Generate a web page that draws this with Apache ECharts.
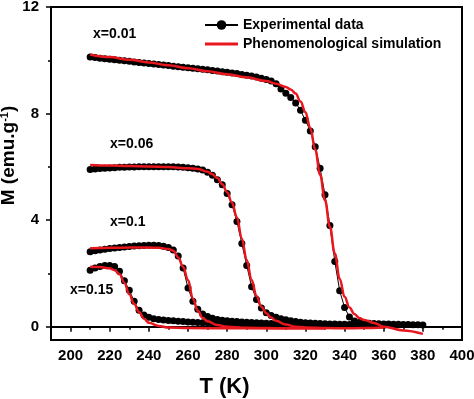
<!DOCTYPE html>
<html>
<head>
    <meta charset="utf-8">
    <title>M-T curves</title>
    <script src="https://cdn.jsdelivr.net/npm/echarts@6.0.0/dist/echarts.min.js"></script>
    <style>
        body { margin: 0; background: #fff; }
        #main { width: 474px; height: 399px; }
    </style>
</head>
<body>
<div id="main"></div>
<script type="text/javascript">
    // temperature grid of the measured points (K)
    var tExp = [210, 212.5, 215, 217.5, 220, 222.5, 225, 227.5, 230, 232.5, 235, 237.5, 240, 242.5, 245, 247.5,
        250, 252.5, 255, 257.5, 260, 262.5, 265, 267.5, 270, 272.5, 275, 277.5, 280, 282.5, 285, 287.5,
        290, 292.5, 295, 297.5, 300, 302.5, 305, 307.5, 310, 312.5, 315, 317.5, 320, 322.5, 325, 327.5,
        330, 332.5, 335, 337.5, 340, 342.5, 345, 347.5, 350, 352.5, 355, 357.5, 360, 362.5, 365, 367.5,
        370, 372.5, 375, 377.5, 380];

    // measured M (emu/g)
    var m01 = [10.12, 10.10, 10.08, 10.06, 10.04, 10.02, 10.00, 9.98, 9.96, 9.94,
        9.92, 9.90, 9.88, 9.86, 9.84, 9.82, 9.80, 9.78, 9.76, 9.74,
        9.72, 9.70, 9.68, 9.66, 9.64, 9.62, 9.60, 9.57, 9.55, 9.52,
        9.50, 9.47, 9.44, 9.41, 9.37, 9.33, 9.28, 9.22, 9.12, 8.92,
        8.76, 8.60, 8.40, 8.12, 7.75, 7.35, 6.75, 5.95, 4.95, 3.80,
        2.45, 1.35, 0.72, 0.36, 0.21, 0.16, 0.14, 0.13, 0.12, 0.11,
        0.10, 0.10, 0.09, 0.09, 0.08, 0.08, 0.07, 0.07, 0.06];
    var m06 = [5.90, 5.92, 5.94, 5.95, 5.96, 5.97, 5.98, 5.98, 5.99, 5.99,
        6.00, 6.00, 6.00, 6.00, 6.00, 6.00, 6.00, 6.00, 5.99, 5.98,
        5.97, 5.95, 5.92, 5.88, 5.80, 5.68, 5.52, 5.33, 5.00, 4.58,
        3.95, 3.12, 2.30, 1.50, 1.02, 0.70, 0.52, 0.42, 0.35, 0.30,
        0.26, 0.22, 0.19, 0.17, 0.15, 0.14, 0.13, 0.12, 0.11, 0.10,
        0.10, 0.09, 0.09, 0.08, 0.08, 0.07, 0.07, 0.06, 0.06, 0.05,
        0.05];
    var m10 = [2.81, 2.85, 2.88, 2.91, 2.93, 2.95, 2.97, 2.99, 3.01, 3.03,
        3.04, 3.05, 3.06, 3.06, 3.05, 3.02, 2.97, 2.88, 2.65, 2.20,
        1.45, 0.95, 0.65, 0.48, 0.38, 0.32, 0.27, 0.24, 0.22, 0.20,
        0.19, 0.18, 0.17, 0.16, 0.15, 0.14, 0.13, 0.12, 0.12, 0.11,
        0.11, 0.10, 0.10, 0.09, 0.09, 0.08, 0.08, 0.07, 0.07, 0.06,
        0.06, 0.06, 0.05];
    var m15 = [2.12, 2.20, 2.26, 2.30, 2.30, 2.26, 2.08, 1.72, 1.37, 0.95,
        0.62, 0.44, 0.35, 0.30, 0.27, 0.25, 0.23, 0.22, 0.20, 0.19,
        0.18, 0.17, 0.16, 0.15, 0.15, 0.14, 0.13, 0.13, 0.12, 0.12,
        0.11, 0.11, 0.10, 0.10, 0.09, 0.09, 0.08, 0.08, 0.08, 0.07,
        0.07, 0.07, 0.06, 0.06, 0.06, 0.05, 0.05, 0.05, 0.05];

    // simulated curves
    var tSim01 = [210, 220, 230, 240, 250, 260, 270, 280, 290, 300, 305, 310, 312.5, 315, 317.5, 320,
        322.5, 325, 327.5, 330, 332.5, 335, 337.5, 340, 342.5, 345, 347.5, 350, 355, 360, 370, 380];
    var mSim01 = [10.22, 10.12, 10.02, 9.92, 9.81, 9.70, 9.59, 9.48, 9.36, 9.22, 9.12, 9.00, 8.90, 8.75, 8.45, 8.05,
        7.45, 6.65, 5.70, 4.75, 3.75, 2.75, 1.80, 1.12, 0.72, 0.48, 0.33, 0.25, 0.14, 0.00, -0.14, -0.27];
    var tSim06 = [210, 220, 230, 240, 250, 260, 265, 270, 272.5, 275, 277.5, 280, 282.5, 285, 287.5,
        290, 292.5, 295, 297.5, 300, 302.5, 305, 310, 315, 320, 330, 340, 350, 360];
    var mSim06 = [6.07, 6.05, 6.03, 6.01, 5.99, 5.95, 5.92, 5.82, 5.72, 5.58, 5.35, 5.05, 4.65, 4.10, 3.30,
        2.50, 1.75, 1.15, 0.75, 0.50, 0.34, 0.22, 0.08, 0.00, -0.03, -0.05, -0.06, -0.05, -0.03];
    var tSim10 = [210, 220, 230, 240, 245, 250, 252.5, 255, 257.5, 260, 262.5, 265, 267.5, 270, 275,
        280, 290, 300, 310, 320, 330];
    var mSim10 = [2.94, 2.96, 2.97, 2.97, 2.96, 2.92, 2.85, 2.60, 2.25, 1.75, 1.05, 0.60, 0.33, 0.20, 0.06,
        0.00, -0.04, -0.05, -0.06, -0.06, -0.06];
    var tSim15 = [210, 215, 220, 222.5, 225, 227.5, 230, 232.5, 235, 237.5, 240, 245, 250, 260, 280, 300, 330];
    var mSim15 = [2.25, 2.24, 2.19, 2.12, 1.97, 1.65, 1.22, 0.85, 0.55, 0.30, 0.15, 0.03, -0.03, -0.05,
        -0.06, -0.06, -0.06];

    // axis ticks
    var xMajor = [200, 220, 240, 260, 280, 300, 320, 340, 360, 380, 400];
    var xMinor = [210, 230, 250, 270, 290, 310, 330, 350, 370, 390];
    var yMajor = [0, 4, 8, 12];
    var yMinor = [2, 6, 10];

    var expName = 'Experimental data';
    var simName = 'Phenomenological simulation';
    var font = '"Liberation Sans", Arial, sans-serif';

    function pairs(t, m) {
        var out = [];
        for (var i = 0; i < m.length; i++) {
            out.push([t[i], m[i]]);
        }
        return out;
    }

    function expSeries(m) {
        return {
            name: expName, type: 'line', data: pairs(tExp, m),
            symbol: 'circle', symbolSize: 7, showAllSymbol: true,
            itemStyle: {color: '#000'}, lineStyle: {color: '#000', width: 1},
            z: 2
        };
    }

    function simSeries(t, m) {
        return {
            name: simName, type: 'line', data: pairs(t, m),
            symbol: 'none', smooth: 0.4, smoothMonotone: 'x',
            itemStyle: {color: '#e8161d'}, lineStyle: {color: '#e8161d', width: 2.5},
            z: 3
        };
    }

    var myChart = echarts.init(document.getElementById('main'));

    var labelStyle = {color: '#000', fontWeight: 'bold', fontSize: 15, fontFamily: font};
    var noteStyle = {fill: '#000', font: 'bold 14px ' + font};

    var option = {
        animation: false,
        grid: {
            left: 51, right: 12, top: 7, bottom: 59,
            show: true, borderColor: '#000', borderWidth: 2,
            outerBoundsMode: 'none'
        },
        legend: {
            left: 199, top: 13, orient: 'vertical',
            itemWidth: 33, itemHeight: 12, itemGap: 5,
            textStyle: {color: '#000', fontWeight: 'bold', fontSize: 14, fontFamily: font},
            data: [
                {name: expName},
                {name: simName, icon: 'path://M0,0L33,0L33,3L0,3Z'}
            ]
        },
        xAxis: [{
            type: 'value', min: 190, max: 400,
            axisLine: {lineStyle: {color: '#000', width: 2}},
            axisTick: {customValues: xMajor, length: 5, lineStyle: {color: '#000', width: 1.5}},
            axisLabel: Object.assign({customValues: xMajor, margin: 8}, labelStyle),
            splitLine: {show: false},
            name: 'T (K)', nameLocation: 'middle', nameGap: 36, nameMoveOverlap: false,
            nameTextStyle: {color: '#000', fontWeight: 'bold', fontSize: 22, fontFamily: font, padding: [0, 64, 0, 0]}
        }, {
            type: 'value', min: 190, max: 400, position: 'bottom',
            axisLine: {lineStyle: {color: '#000', width: 2}},
            axisTick: {customValues: xMinor, length: 3, lineStyle: {color: '#000', width: 1.5}},
            axisLabel: {show: false},
            splitLine: {show: false}
        }],
        yAxis: [{
            type: 'value', min: -0.5, max: 12,
            axisLine: {show: true, lineStyle: {color: '#000', width: 2}},
            axisTick: {show: true, customValues: yMajor, length: 5, lineStyle: {color: '#000', width: 1.5}},
            axisLabel: Object.assign({customValues: yMajor, margin: 12}, labelStyle),
            splitLine: {show: false},
            name: 'M (emu.g{sup|-1})', nameLocation: 'middle', nameGap: 32, nameMoveOverlap: false,
            nameTextStyle: {
                color: '#000', fontWeight: 'bold', fontSize: 19, fontFamily: font, padding: [0, 0, 0, 36],
                rich: {sup: {fontSize: 11, fontWeight: 'bold', fontFamily: font, color: '#000', verticalAlign: 'top', padding: [0, 0, 9, 0]}}
            }
        }, {
            type: 'value', min: -0.5, max: 12, position: 'left',
            axisLine: {show: true, lineStyle: {color: '#000', width: 2}},
            axisTick: {show: true, customValues: yMinor, length: 3, lineStyle: {color: '#000', width: 1.5}},
            axisLabel: {show: false},
            splitLine: {show: false}
        }],
        graphic: [
            {type: 'text', left: 93, top: 27, style: Object.assign({text: 'x=0.01'}, noteStyle)},
            {type: 'text', left: 110, top: 137, style: Object.assign({text: 'x=0.06'}, noteStyle)},
            {type: 'text', left: 110, top: 215, style: Object.assign({text: 'x=0.1'}, noteStyle)},
            {type: 'text', left: 70, top: 283, style: Object.assign({text: 'x=0.15'}, noteStyle)}
        ],
        series: [
            expSeries(m01), expSeries(m06), expSeries(m10), expSeries(m15),
            simSeries(tSim01, mSim01), simSeries(tSim06, mSim06),
            simSeries(tSim10, mSim10), simSeries(tSim15, mSim15)
        ]
    };

    myChart.setOption(option);
</script>
</body>
</html>
